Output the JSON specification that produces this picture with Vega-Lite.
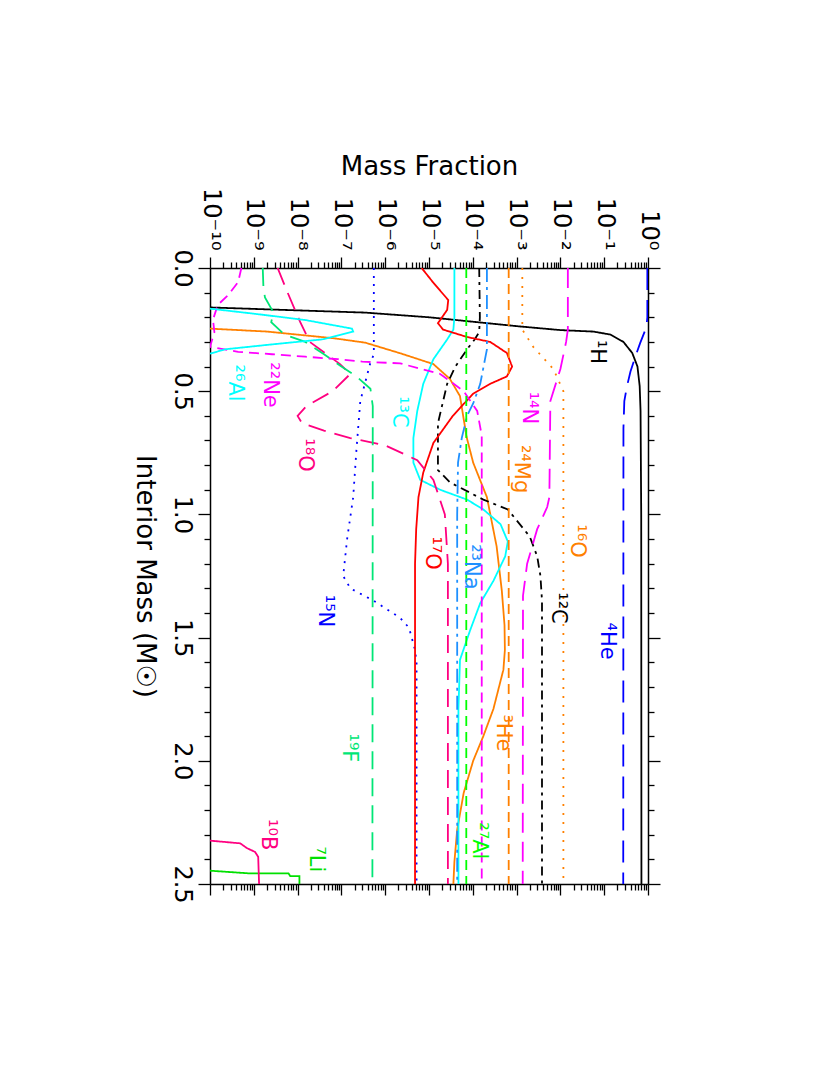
{
  "$schema": "https://vega.github.io/schema/vega-lite/v6.json",
  "width": 438,
  "height": 616,
  "autosize": "none",
  "padding": {"left": 210, "top": 268, "right": 182, "bottom": 191},
  "background": "white",
  "config": {"font": "DejaVu Sans", "view": {"stroke": null}},
  "datasets": {
    "curves": [
      {"iso":"H1","i":0,"mass":0.160,"frac":1e-10},{"iso":"H1","i":1,"mass":0.172,"frac":1e-8},{"iso":"H1","i":2,"mass":0.181,"frac":3.5e-7},{"iso":"H1","i":3,"mass":0.200,"frac":1e-5},{"iso":"H1","i":4,"mass":0.218,"frac":1e-4},{"iso":"H1","i":5,"mass":0.236,"frac":1e-3},{"iso":"H1","i":6,"mass":0.252,"frac":0.01},{"iso":"H1","i":7,"mass":0.258,"frac":0.056},{"iso":"H1","i":8,"mass":0.270,"frac":0.138},{"iso":"H1","i":9,"mass":0.300,"frac":0.275},{"iso":"H1","i":10,"mass":0.345,"frac":0.437},{"iso":"H1","i":11,"mass":0.400,"frac":0.575},{"iso":"H1","i":12,"mass":0.480,"frac":0.646},{"iso":"H1","i":13,"mass":0.580,"frac":0.676},{"iso":"H1","i":14,"mass":1.0,"frac":0.70},{"iso":"H1","i":15,"mass":2.5,"frac":0.708},
      {"iso":"He4","i":0,"mass":0.0,"frac":0.966},{"iso":"He4","i":1,"mass":0.20,"frac":0.966},{"iso":"He4","i":2,"mass":0.24,"frac":0.92},{"iso":"He4","i":3,"mass":0.305,"frac":0.661},{"iso":"He4","i":4,"mass":0.36,"frac":0.513},{"iso":"He4","i":5,"mass":0.42,"frac":0.398},{"iso":"He4","i":6,"mass":0.48,"frac":0.331},{"iso":"He4","i":7,"mass":0.54,"frac":0.288},{"iso":"He4","i":8,"mass":0.65,"frac":0.275},{"iso":"He4","i":9,"mass":2.5,"frac":0.272},
      {"iso":"He3","i":0,"mass":0.246,"frac":1e-10},{"iso":"He3","i":1,"mass":0.258,"frac":2.0e-9},{"iso":"He3","i":2,"mass":0.285,"frac":6.6e-8},{"iso":"He3","i":3,"mass":0.303,"frac":3.5e-7},{"iso":"He3","i":4,"mass":0.346,"frac":2.2e-6},{"iso":"He3","i":5,"mass":0.39,"frac":1.26e-5},{"iso":"He3","i":6,"mass":0.45,"frac":3.0e-5},{"iso":"He3","i":7,"mass":0.52,"frac":5.1e-5},{"iso":"He3","i":8,"mass":0.685,"frac":7.2e-5},{"iso":"He3","i":9,"mass":0.79,"frac":1.02e-4},{"iso":"He3","i":10,"mass":0.93,"frac":2.1e-4},{"iso":"He3","i":11,"mass":1.13,"frac":3.5e-4},{"iso":"He3","i":12,"mass":1.31,"frac":4.6e-4},{"iso":"He3","i":13,"mass":1.45,"frac":5.3e-4},{"iso":"He3","i":14,"mass":1.55,"frac":5.4e-4},{"iso":"He3","i":15,"mass":1.63,"frac":5.0e-4},{"iso":"He3","i":16,"mass":1.79,"frac":2.95e-4},{"iso":"He3","i":17,"mass":1.90,"frac":1.74e-4},{"iso":"He3","i":18,"mass":2.00,"frac":1.02e-4},{"iso":"He3","i":19,"mass":2.13,"frac":6.2e-5},{"iso":"He3","i":20,"mass":2.28,"frac":4.4e-5},{"iso":"He3","i":21,"mass":2.41,"frac":3.8e-5},{"iso":"He3","i":22,"mass":2.5,"frac":3.6e-5},
      {"iso":"C12","i":0,"mass":0.0,"frac":1.4e-4},{"iso":"C12","i":1,"mass":0.20,"frac":1.45e-4},{"iso":"C12","i":2,"mass":0.26,"frac":1.4e-4},{"iso":"C12","i":3,"mass":0.29,"frac":1.1e-4},{"iso":"C12","i":4,"mass":0.33,"frac":7.4e-5},{"iso":"C12","i":5,"mass":0.40,"frac":4.0e-5},{"iso":"C12","i":6,"mass":0.47,"frac":2.6e-5},{"iso":"C12","i":7,"mass":0.63,"frac":1.6e-5},{"iso":"C12","i":8,"mass":0.82,"frac":1.6e-5},{"iso":"C12","i":9,"mass":0.87,"frac":3.0e-5},{"iso":"C12","i":10,"mass":0.94,"frac":1.74e-4},{"iso":"C12","i":11,"mass":0.98,"frac":6.3e-4},{"iso":"C12","i":12,"mass":1.09,"frac":2.0e-3},{"iso":"C12","i":13,"mass":1.17,"frac":2.95e-3},{"iso":"C12","i":14,"mass":1.25,"frac":3.5e-3},{"iso":"C12","i":15,"mass":1.35,"frac":3.8e-3},{"iso":"C12","i":16,"mass":2.5,"frac":3.8e-3},
      {"iso":"C13","i":0,"mass":0.0,"frac":3.8e-5},{"iso":"C13","i":1,"mass":0.20,"frac":3.8e-5},{"iso":"C13","i":2,"mass":0.25,"frac":3.6e-5},{"iso":"C13","i":3,"mass":0.29,"frac":2.6e-5},{"iso":"C13","i":4,"mass":0.37,"frac":1.26e-5},{"iso":"C13","i":5,"mass":0.47,"frac":7.4e-6},{"iso":"C13","i":6,"mass":0.58,"frac":5.4e-6},{"iso":"C13","i":7,"mass":0.69,"frac":4.4e-6},{"iso":"C13","i":8,"mass":0.79,"frac":4.4e-6},{"iso":"C13","i":9,"mass":0.86,"frac":6.3e-6},{"iso":"C13","i":10,"mass":0.90,"frac":1.8e-5},{"iso":"C13","i":11,"mass":0.94,"frac":7.4e-5},{"iso":"C13","i":12,"mass":0.98,"frac":1.74e-4},{"iso":"C13","i":13,"mass":1.04,"frac":4.3e-4},{"iso":"C13","i":14,"mass":1.11,"frac":6.3e-4},{"iso":"C13","i":15,"mass":1.17,"frac":5.5e-4},{"iso":"C13","i":16,"mass":1.27,"frac":2.95e-4},{"iso":"C13","i":17,"mass":1.36,"frac":1.48e-4},{"iso":"C13","i":18,"mass":1.47,"frac":8.7e-5},{"iso":"C13","i":19,"mass":1.59,"frac":5.1e-5},{"iso":"C13","i":20,"mass":1.79,"frac":4.7e-5},{"iso":"C13","i":21,"mass":2.5,"frac":4.7e-5},
      {"iso":"N14","i":0,"mass":0.0,"frac":1.48e-2},{"iso":"N14","i":1,"mass":0.25,"frac":1.48e-2},{"iso":"N14","i":2,"mass":0.30,"frac":1.35e-2},{"iso":"N14","i":3,"mass":0.41,"frac":1.0e-2},{"iso":"N14","i":4,"mass":0.54,"frac":5.9e-3},{"iso":"N14","i":5,"mass":0.93,"frac":5.6e-3},{"iso":"N14","i":6,"mass":0.97,"frac":5.0e-3},{"iso":"N14","i":7,"mass":1.06,"frac":2.95e-3},{"iso":"N14","i":8,"mass":1.20,"frac":1.74e-3},{"iso":"N14","i":9,"mass":1.33,"frac":1.4e-3},{"iso":"N14","i":10,"mass":2.5,"frac":1.38e-3},
      {"iso":"N15","i":0,"mass":0.0,"frac":5.5e-7},{"iso":"N15","i":1,"mass":0.35,"frac":5.5e-7},{"iso":"N15","i":2,"mass":0.39,"frac":4.5e-7},{"iso":"N15","i":3,"mass":0.54,"frac":2.7e-7},{"iso":"N15","i":4,"mass":0.74,"frac":2.2e-7},{"iso":"N15","i":5,"mass":0.93,"frac":1.86e-7},{"iso":"N15","i":6,"mass":1.10,"frac":1.35e-7},{"iso":"N15","i":7,"mass":1.25,"frac":1.1e-7},{"iso":"N15","i":8,"mass":1.30,"frac":1.6e-7},{"iso":"N15","i":9,"mass":1.35,"frac":5.4e-7},{"iso":"N15","i":10,"mass":1.42,"frac":2.2e-6},{"iso":"N15","i":11,"mass":1.46,"frac":3.5e-6},{"iso":"N15","i":12,"mass":1.55,"frac":4.8e-6},{"iso":"N15","i":13,"mass":1.60,"frac":5.2e-6},{"iso":"N15","i":14,"mass":2.5,"frac":5.2e-6},
      {"iso":"O16","i":0,"mass":0.0,"frac":1.35e-3},{"iso":"O16","i":1,"mass":0.25,"frac":1.35e-3},{"iso":"O16","i":2,"mass":0.32,"frac":2.4e-3},{"iso":"O16","i":3,"mass":0.41,"frac":6.9e-3},{"iso":"O16","i":4,"mass":0.50,"frac":1.17e-2},{"iso":"O16","i":5,"mass":2.5,"frac":1.17e-2},
      {"iso":"O17","i":0,"mass":0.0,"frac":6.8e-6},{"iso":"O17","i":1,"mass":0.06,"frac":1.26e-5},{"iso":"O17","i":2,"mass":0.13,"frac":2.75e-5},{"iso":"O17","i":3,"mass":0.17,"frac":2.6e-5},{"iso":"O17","i":4,"mass":0.224,"frac":1.6e-5},{"iso":"O17","i":5,"mass":0.25,"frac":2.1e-5},{"iso":"O17","i":6,"mass":0.28,"frac":7.4e-5},{"iso":"O17","i":7,"mass":0.30,"frac":2.5e-4},{"iso":"O17","i":8,"mass":0.345,"frac":6.0e-4},{"iso":"O17","i":9,"mass":0.40,"frac":7.9e-4},{"iso":"O17","i":10,"mass":0.44,"frac":6.0e-4},{"iso":"O17","i":11,"mass":0.47,"frac":2.5e-4},{"iso":"O17","i":12,"mass":0.51,"frac":1.02e-4},{"iso":"O17","i":13,"mass":0.60,"frac":3.5e-5},{"iso":"O17","i":14,"mass":0.71,"frac":1.26e-5},{"iso":"O17","i":15,"mass":0.83,"frac":7.4e-6},{"iso":"O17","i":16,"mass":0.93,"frac":5.75e-6},{"iso":"O17","i":17,"mass":1.06,"frac":5.1e-6},{"iso":"O17","i":18,"mass":1.20,"frac":4.8e-6},{"iso":"O17","i":19,"mass":2.5,"frac":4.8e-6},
      {"iso":"O18","i":0,"mass":0.0,"frac":3.5e-9},{"iso":"O18","i":1,"mass":0.09,"frac":5.6e-9},{"iso":"O18","i":2,"mass":0.22,"frac":1.15e-8},{"iso":"O18","i":3,"mass":0.30,"frac":1.9e-8},{"iso":"O18","i":4,"mass":0.39,"frac":9.3e-8},{"iso":"O18","i":5,"mass":0.43,"frac":1.6e-7},{"iso":"O18","i":6,"mass":0.50,"frac":6.3e-8},{"iso":"O18","i":7,"mass":0.56,"frac":1.6e-8},{"iso":"O18","i":8,"mass":0.60,"frac":1.0e-8},{"iso":"O18","i":9,"mass":0.63,"frac":1.26e-8},{"iso":"O18","i":10,"mass":0.66,"frac":4.0e-8},{"iso":"O18","i":11,"mass":0.69,"frac":1.6e-7},{"iso":"O18","i":12,"mass":0.72,"frac":1.0e-6},{"iso":"O18","i":13,"mass":0.78,"frac":5.4e-6},{"iso":"O18","i":14,"mass":0.86,"frac":1.26e-5},{"iso":"O18","i":15,"mass":1.0,"frac":2.3e-5},{"iso":"O18","i":16,"mass":1.2,"frac":2.7e-5},{"iso":"O18","i":17,"mass":2.5,"frac":2.7e-5},
      {"iso":"F19","i":0,"mass":0.0,"frac":1.6e-9},{"iso":"F19","i":1,"mass":0.08,"frac":1.66e-9},{"iso":"F19","i":2,"mass":0.12,"frac":1.8e-9},{"iso":"F19","i":3,"mass":0.18,"frac":2.8e-9},{"iso":"F19","i":4,"mass":0.22,"frac":2.5e-9},{"iso":"F19","i":5,"mass":0.27,"frac":5.0e-9},{"iso":"F19","i":6,"mass":0.30,"frac":1.5e-8},{"iso":"F19","i":7,"mass":0.35,"frac":4.0e-8},{"iso":"F19","i":8,"mass":0.40,"frac":1.0e-7},{"iso":"F19","i":9,"mass":0.44,"frac":2.2e-7},{"iso":"F19","i":10,"mass":0.49,"frac":4.6e-7},{"iso":"F19","i":11,"mass":0.56,"frac":5.2e-7},{"iso":"F19","i":12,"mass":2.5,"frac":5.1e-7},
      {"iso":"Ne22","i":0,"mass":0.0,"frac":5.2e-10},{"iso":"Ne22","i":1,"mass":0.057,"frac":4.4e-10},{"iso":"Ne22","i":2,"mass":0.11,"frac":2.6e-10},{"iso":"Ne22","i":3,"mass":0.15,"frac":1.5e-10},{"iso":"Ne22","i":4,"mass":0.21,"frac":1.17e-10},{"iso":"Ne22","i":5,"mass":0.26,"frac":1.26e-10},{"iso":"Ne22","i":6,"mass":0.32,"frac":1.0e-10},{"iso":"Ne22","i":7,"mass":0.34,"frac":4.4e-10},{"iso":"Ne22","i":8,"mass":0.35,"frac":2.6e-9},{"iso":"Ne22","i":9,"mass":0.36,"frac":1.5e-8},{"iso":"Ne22","i":10,"mass":0.37,"frac":8.3e-8},{"iso":"Ne22","i":11,"mass":0.38,"frac":3.0e-7},{"iso":"Ne22","i":12,"mass":0.387,"frac":2.2e-6},{"iso":"Ne22","i":13,"mass":0.43,"frac":1.8e-5},{"iso":"Ne22","i":14,"mass":0.50,"frac":6.2e-5},{"iso":"Ne22","i":15,"mass":0.58,"frac":1.26e-4},{"iso":"Ne22","i":16,"mass":0.68,"frac":1.6e-4},{"iso":"Ne22","i":17,"mass":2.5,"frac":1.6e-4},
      {"iso":"Na23","i":0,"mass":0.0,"frac":2.1e-4},{"iso":"Na23","i":1,"mass":0.33,"frac":2.1e-4},{"iso":"Na23","i":2,"mass":0.37,"frac":1.9e-4},{"iso":"Na23","i":3,"mass":0.47,"frac":1.48e-4},{"iso":"Na23","i":4,"mass":0.55,"frac":1.02e-4},{"iso":"Na23","i":5,"mass":0.60,"frac":7.4e-5},{"iso":"Na23","i":6,"mass":0.69,"frac":5.6e-5},{"iso":"Na23","i":7,"mass":0.79,"frac":4.6e-5},{"iso":"Na23","i":8,"mass":1.0,"frac":4.4e-5},{"iso":"Na23","i":9,"mass":2.5,"frac":4.4e-5},
      {"iso":"Mg24","i":0,"mass":0.0,"frac":6.6e-4},{"iso":"Mg24","i":1,"mass":2.5,"frac":6.6e-4},
      {"iso":"Al27","i":0,"mass":0.0,"frac":7.1e-5},{"iso":"Al27","i":1,"mass":2.5,"frac":7.1e-5},
      {"iso":"Al26","i":0,"mass":0.165,"frac":1e-10},{"iso":"Al26","i":1,"mass":0.186,"frac":1.07e-9},{"iso":"Al26","i":2,"mass":0.211,"frac":1.48e-8},{"iso":"Al26","i":3,"mass":0.246,"frac":1.74e-7},{"iso":"Al26","i":4,"mass":0.258,"frac":1.86e-7},{"iso":"Al26","i":5,"mass":0.29,"frac":3.6e-8},{"iso":"Al26","i":6,"mass":0.31,"frac":2.6e-9},{"iso":"Al26","i":7,"mass":0.33,"frac":2.2e-10},{"iso":"Al26","i":8,"mass":0.348,"frac":1e-10},
      {"iso":"Li7","i":0,"mass":2.446,"frac":1e-10},{"iso":"Li7","i":1,"mass":2.457,"frac":8.1e-10},{"iso":"Li7","i":2,"mass":2.457,"frac":6.2e-9},{"iso":"Li7","i":3,"mass":2.468,"frac":6.8e-9},{"iso":"Li7","i":4,"mass":2.468,"frac":1.1e-8},{"iso":"Li7","i":5,"mass":2.5,"frac":1.1e-8},
      {"iso":"B10","i":0,"mass":2.324,"frac":1e-10},{"iso":"B10","i":1,"mass":2.335,"frac":4.9e-10},{"iso":"B10","i":2,"mass":2.354,"frac":6.9e-10},{"iso":"B10","i":3,"mass":2.37,"frac":1.07e-9},{"iso":"B10","i":4,"mass":2.39,"frac":1.26e-9},{"iso":"B10","i":5,"mass":2.5,"frac":1.32e-9}
    ],
    "labels": [
      {"iso":"H1","label":"¹H","mass":0.341,"frac":0.0695},
      {"iso":"N14","label":"¹⁴N","mass":0.568,"frac":1.95e-3},
      {"iso":"Ne22","label":"²²Ne","mass":0.475,"frac":2.33e-9},
      {"iso":"Al26","label":"²⁶Al","mass":0.467,"frac":3.7e-10},
      {"iso":"C13","label":"¹³C","mass":0.584,"frac":2.1e-6},
      {"iso":"O18","label":"¹⁸O","mass":0.759,"frac":1.48e-8},
      {"iso":"Mg24","label":"²⁴Mg","mass":0.816,"frac":1.27e-3},
      {"iso":"O16","label":"¹⁶O","mass":1.108,"frac":2.43e-2},
      {"iso":"O17","label":"¹⁷O","mass":1.157,"frac":1.18e-5},
      {"iso":"Na23","label":"²³Na","mass":1.213,"frac":9.2e-5},
      {"iso":"C12","label":"¹²C","mass":1.38,"frac":8.9e-3},
      {"iso":"N15","label":"¹⁵N","mass":1.392,"frac":4.2e-8},
      {"iso":"He4","label":"⁴He","mass":1.514,"frac":0.117},
      {"iso":"He3","label":"³He","mass":1.887,"frac":4.9e-4},
      {"iso":"F19","label":"¹⁹F","mass":1.948,"frac":1.5e-7},
      {"iso":"Al27","label":"²⁷Al","mass":2.325,"frac":1.4e-4},
      {"iso":"B10","label":"¹⁰B","mass":2.30,"frac":2.1e-9},
      {"iso":"Li7","label":"⁷Li","mass":2.40,"frac":2.6e-8}
    ]
  },
  "resolve": {"axis": {"x": "independent", "y": "independent"}},
  "layer": [
    {
      "data": {"name": "curves"},
      "mark": {"type": "line", "clip": true, "strokeWidth": 1.8},
      "encoding": {
        "x": {"field": "frac", "type": "quantitative",
          "scale": {"type": "log", "domain": [1e-10, 1], "nice": false},
          "axis": {"orient": "top", "title": "Mass Fraction", "titleFontSize": 26, "titleFontWeight": "normal", "titleColor": "black", "titlePadding": 8,
            "values": [1e-10,2e-10,3e-10,4e-10,5e-10,6e-10,7e-10,8e-10,9e-10,1e-9,2e-9,3e-9,4e-9,5e-9,6e-9,7e-9,8e-9,9e-9,1e-8,2e-8,3e-8,4e-8,5e-8,6e-8,7e-8,8e-8,9e-8,1e-7,2e-7,3e-7,4e-7,5e-7,6e-7,7e-7,8e-7,9e-7,1e-6,2e-6,3e-6,4e-6,5e-6,6e-6,7e-6,8e-6,9e-6,1e-5,2e-5,3e-5,4e-5,5e-5,6e-5,7e-5,8e-5,9e-5,1e-4,2e-4,3e-4,4e-4,5e-4,6e-4,7e-4,8e-4,9e-4,1e-3,2e-3,3e-3,4e-3,5e-3,6e-3,7e-3,8e-3,9e-3,0.01,0.02,0.03,0.04,0.05,0.06,0.07,0.08,0.09,0.1,0.2,0.3,0.4,0.5,0.6,0.7,0.8,0.9,1],
            "labelExpr": "abs(log(datum.value)/LN10 - round(log(datum.value)/LN10)) < 0.001 ? ['10⁻¹⁰','10⁻⁹','10⁻⁸','10⁻⁷','10⁻⁶','10⁻⁵','10⁻⁴','10⁻³','10⁻²','10⁻¹','10⁰'][round(log(datum.value)/LN10) + 10] : ''",
            "labelAngle": 90, "labelAlign": "right", "labelBaseline": "middle", "labelFontSize": 24, "labelPadding": 7, "labelColor": "black",
            "labelOverlap": false, "labelFlush": false, "labelBound": false,
            "tickSize": {"condition": {"test": "abs(log(datum.value)/LN10 - round(log(datum.value)/LN10)) < 0.001", "value": 11}, "value": 6},
            "tickColor": "black", "tickWidth": 1.3, "domainColor": "black", "domainWidth": 1.5, "grid": false}},
        "y": {"field": "mass", "type": "quantitative",
          "scale": {"domain": [0, 2.5], "reverse": true, "nice": false, "zero": false},
          "axis": {"orient": "left", "title": "Interior Mass (M☉)", "titleFontSize": 26, "titleFontWeight": "normal", "titleColor": "black", "titleAngle": 90, "titleBaseline": "top", "titlePadding": 12,
            "values": [0,0.1,0.2,0.3,0.4,0.5,0.6,0.7,0.8,0.9,1.0,1.1,1.2,1.3,1.4,1.5,1.6,1.7,1.8,1.9,2.0,2.1,2.2,2.3,2.4,2.5],
            "labelExpr": "abs(datum.value*2 - round(datum.value*2)) < 0.001 ? format(datum.value, '.1f') : ''",
            "labelAngle": 90, "labelAlign": "center", "labelBaseline": "top", "labelFontSize": 24, "labelPadding": 5, "labelColor": "black",
            "labelOverlap": false, "labelFlush": false, "labelBound": false,
            "tickSize": {"condition": {"test": "abs(datum.value*2 - round(datum.value*2)) < 0.001", "value": 12}, "value": 6},
            "tickColor": "black", "tickWidth": 1.3, "domainColor": "black", "domainWidth": 1.5, "grid": false}},
        "color": {"field": "iso", "type": "nominal", "legend": null,
          "scale": {"domain": ["H1","He4","He3","C12","C13","N14","N15","O16","O17","O18","F19","Ne22","Na23","Mg24","Al26","Al27","Li7","B10"],
                    "range": ["#000000","#0000ff","#ff8000","#000000","#00ffff","#ff00ff","#0000ff","#ff8000","#ff0000","#ff0080","#00e676","#ff00ff","#1e90ff","#ff8000","#00ffff","#00ff00","#00e000","#ff0080"]}},
        "strokeDash": {"field": "iso", "type": "nominal", "legend": null,
          "scale": {"domain": ["H1","He4","He3","C12","C13","N14","N15","O16","O17","O18","F19","Ne22","Na23","Mg24","Al26","Al27","Li7","B10"],
                    "range": [[1,0],[22,10],[1,0],[9,5,3,5],[1,0],[20,9],[2,6],[2,7],[1,0],[18,9],[18,9],[10,6],[14,5,3,5],[10,6],[1,0],[10,6],[1,0],[1,0]]}},
        "order": {"field": "i", "type": "quantitative"}
      }
    },
    {
      "data": {"name": "labels"},
      "mark": {"type": "text", "angle": 90, "align": "center", "baseline": "middle", "fontSize": 21},
      "encoding": {
        "x": {"field": "frac", "type": "quantitative",
          "scale": {"type": "log", "domain": [1e-10, 1], "nice": false},
          "axis": {"orient": "bottom", "title": null, "labels": false,
            "values": [1e-10,2e-10,3e-10,4e-10,5e-10,6e-10,7e-10,8e-10,9e-10,1e-9,2e-9,3e-9,4e-9,5e-9,6e-9,7e-9,8e-9,9e-9,1e-8,2e-8,3e-8,4e-8,5e-8,6e-8,7e-8,8e-8,9e-8,1e-7,2e-7,3e-7,4e-7,5e-7,6e-7,7e-7,8e-7,9e-7,1e-6,2e-6,3e-6,4e-6,5e-6,6e-6,7e-6,8e-6,9e-6,1e-5,2e-5,3e-5,4e-5,5e-5,6e-5,7e-5,8e-5,9e-5,1e-4,2e-4,3e-4,4e-4,5e-4,6e-4,7e-4,8e-4,9e-4,1e-3,2e-3,3e-3,4e-3,5e-3,6e-3,7e-3,8e-3,9e-3,0.01,0.02,0.03,0.04,0.05,0.06,0.07,0.08,0.09,0.1,0.2,0.3,0.4,0.5,0.6,0.7,0.8,0.9,1],
            "tickSize": {"condition": {"test": "abs(log(datum.value)/LN10 - round(log(datum.value)/LN10)) < 0.001", "value": 11}, "value": 6},
            "tickColor": "black", "tickWidth": 1.3, "domainColor": "black", "domainWidth": 1.5, "grid": false}},
        "y": {"field": "mass", "type": "quantitative",
          "scale": {"domain": [0, 2.5], "reverse": true, "nice": false, "zero": false},
          "axis": {"orient": "right", "title": null, "labels": false,
            "values": [0,0.1,0.2,0.3,0.4,0.5,0.6,0.7,0.8,0.9,1.0,1.1,1.2,1.3,1.4,1.5,1.6,1.7,1.8,1.9,2.0,2.1,2.2,2.3,2.4,2.5],
            "tickSize": {"condition": {"test": "abs(datum.value*2 - round(datum.value*2)) < 0.001", "value": 12}, "value": 6},
            "tickColor": "black", "tickWidth": 1.3, "domainColor": "black", "domainWidth": 1.5, "grid": false}},
        "text": {"field": "label", "type": "nominal"},
        "color": {"field": "iso", "type": "nominal", "legend": null}
      }
    }
  ]
}
